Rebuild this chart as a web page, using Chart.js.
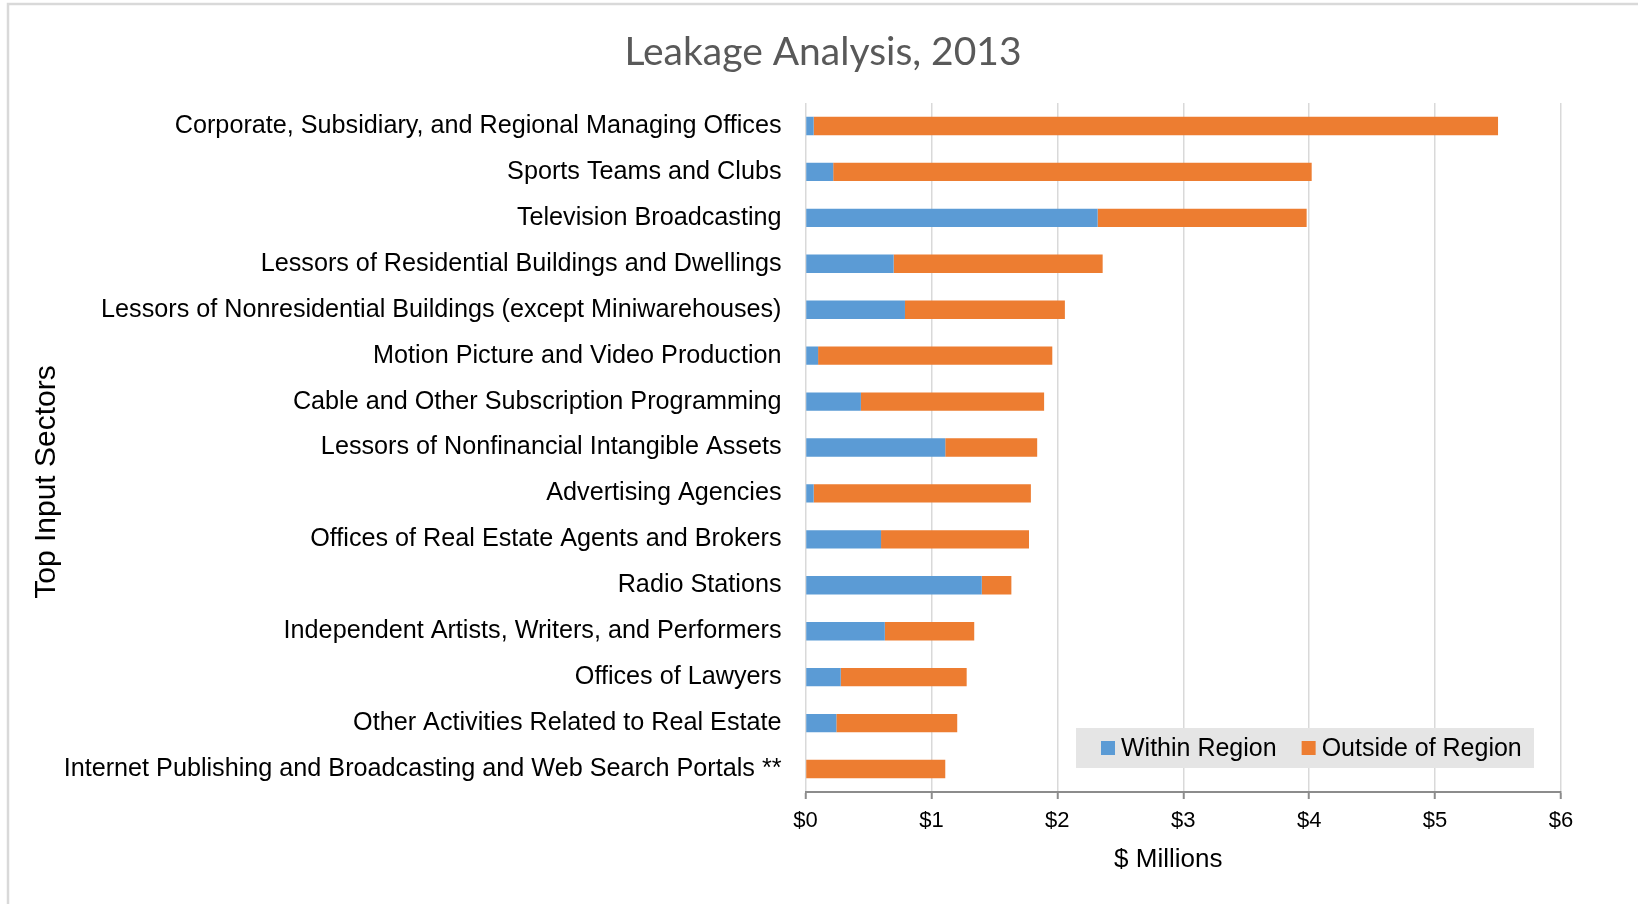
<!DOCTYPE html>
<html>
<head>
<meta charset="utf-8">
<script src="https://cdn.jsdelivr.net/npm/chart.js@4.4.1/dist/chart.umd.min.js"></script>
<style>
  html, body { margin: 0; padding: 0; background: #ffffff; }
  #wrap { width: 1638px; height: 904px; position: relative; }
</style>
</head>
<body>
<div id="wrap"><canvas id="c" width="1638" height="904"></canvas></div>
<script>
const chartTitle = "Leakage Analysis, 2013";
const xAxisTitle = "$ Millions";
const yAxisTitle = "Top Input Sectors";

const categories = [
  "Corporate, Subsidiary, and Regional Managing Offices",
  "Sports Teams and Clubs",
  "Television Broadcasting",
  "Lessors of Residential Buildings and Dwellings",
  "Lessors of Nonresidential Buildings (except Miniwarehouses)",
  "Motion Picture and Video Production",
  "Cable and Other Subscription Programming",
  "Lessors of Nonfinancial Intangible Assets",
  "Advertising Agencies",
  "Offices of Real Estate Agents and Brokers",
  "Radio Stations",
  "Independent Artists, Writers, and Performers",
  "Offices of Lawyers",
  "Other Activities Related to Real Estate",
  "Internet Publishing and Broadcasting and Web Search Portals **"
];

const withinRegion  = [0.065, 0.22, 2.32, 0.70, 0.79, 0.10, 0.44, 1.11, 0.065, 0.60, 1.40, 0.63, 0.28, 0.245, 0.0];
const outsideRegion = [5.435, 3.80, 1.66, 1.66, 1.27, 1.86, 1.455, 0.73, 1.725, 1.175, 0.235, 0.71, 1.00, 0.96, 1.11];

const xTickValues = [0, 1, 2, 3, 4, 5, 6];
const xTickPrefix = "$";

const seriesNames = ["Within Region", "Outside of Region"];
const seriesColors = ["#5b9bd5", "#ed7d31"];

const FONT = "'Liberation Sans', Arial, sans-serif";

const framePlugin = {
  id: 'frame',
  beforeDraw(chart) {
    const ctx = chart.ctx;
    ctx.save();
    ctx.fillStyle = '#ffffff';
    ctx.fillRect(0, 0, chart.width, chart.height);
    ctx.strokeStyle = '#d9d9d9';
    ctx.lineWidth = 2.5;
    ctx.beginPath();
    ctx.moveTo(8, chart.height);
    ctx.lineTo(8, 4);
    ctx.lineTo(chart.width, 4);
    ctx.stroke();
    ctx.restore();
  }
};

// shift the title box so that it is centred where the reference centres it
const titleShiftPlugin = {
  id: 'titleShift',
  afterLayout(chart) {
    const t = chart.titleBlock;
    if (t) {
      t.left += 85;
      t.width = t.right - t.left;
    }
  }
};

const yTitlePlugin = {
  id: 'yTitle',
  afterDraw(chart) {
    const ctx = chart.ctx;
    ctx.save();
    ctx.translate(47, 482);
    ctx.rotate(-Math.PI / 2);
    ctx.font = "30px " + FONT;
    ctx.fillStyle = '#000000';
    ctx.textAlign = 'center';
    ctx.textBaseline = 'middle';
    ctx.fillText(yAxisTitle, 0, 0);
    ctx.restore();
  }
};

const xTitlePlugin = {
  id: 'xTitle',
  afterDraw(chart) {
    const ctx = chart.ctx;
    const area = chart.chartArea;
    ctx.save();
    ctx.font = "26px " + FONT;
    ctx.fillStyle = '#000000';
    ctx.textAlign = 'center';
    ctx.textBaseline = 'middle';
    ctx.fillText(xAxisTitle, (area.left + area.right) / 2 - 15, 860);
    ctx.restore();
  }
};

const legendPlugin = {
  id: 'insideLegend',
  afterDraw(chart) {
    const ctx = chart.ctx;
    const area = chart.chartArea;
    const boxW = 458, boxH = 40;
    const bx = area.right - 27 - boxW;
    const by = area.bottom - 24 - boxH;
    ctx.save();
    ctx.fillStyle = '#e5e5e5';
    ctx.fillRect(bx, by, boxW, boxH);
    ctx.font = "25px " + FONT;
    ctx.textBaseline = 'middle';
    ctx.textAlign = 'left';
    let x = bx + 25;
    const cy = by + boxH / 2;
    chart.data.datasets.forEach(ds => {
      ctx.fillStyle = ds.backgroundColor;
      ctx.fillRect(x, cy - 7, 14, 14);
      x += 20;
      ctx.fillStyle = '#000000';
      ctx.fillText(ds.label, x, cy + 1);
      x += ctx.measureText(ds.label).width + 25;
    });
    ctx.restore();
  }
};

new Chart(document.getElementById('c'), {
  type: 'bar',
  data: {
    labels: categories,
    datasets: [
      { label: seriesNames[0], data: withinRegion, backgroundColor: seriesColors[0], borderWidth: 0 },
      { label: seriesNames[1], data: outsideRegion, backgroundColor: seriesColors[1], borderWidth: 0 }
    ]
  },
  options: {
    indexAxis: 'y',
    responsive: false,
    devicePixelRatio: 1,
    animation: false,
    layout: { padding: { left: 0, right: 77, top: 0, bottom: 0 } },
    datasets: { bar: { categoryPercentage: 1.0, barPercentage: 0.4 } },
    plugins: {
      legend: { display: false },
      tooltip: { enabled: false },
      title: {
        display: true,
        text: chartTitle,
        color: '#595959',
        font: { family: "Lato, 'Liberation Sans', sans-serif", size: 39, weight: 'normal', lineHeight: 1.2 },
        padding: { top: 28.6, bottom: 27.6 }
      }
    },
    scales: {
      x: {
        type: 'linear',
        stacked: true,
        min: 0,
        max: 6,
        afterBuildTicks(scale) { scale.ticks = xTickValues.map(v => ({ value: v })); },
        afterFit(scale) { scale.height = 112; },
        ticks: {
          stepSize: 1,
          color: '#000000',
          font: { family: FONT, size: 22 },
          padding: 9,
          callback: v => xTickPrefix + v
        },
        grid: {
          color: '#d9d9d9',
          lineWidth: 1.5,
          drawTicks: true,
          tickLength: 7,
          tickColor: '#8c8c8c',
          tickWidth: 2
        },
        border: { display: true, color: '#8c8c8c', width: 2 },
        title: { display: false, text: xAxisTitle }
      },
      y: {
        type: 'category',
        stacked: true,
        afterFit(scale) { scale.width = 805.5; },
        ticks: {
          color: '#000000',
          font: { family: FONT, size: 25.2 },
          padding: 24,
          autoSkip: false
        },
        grid: { display: false, drawTicks: false },
        border: { display: false },
        title: { display: false, text: yAxisTitle }
      }
    }
  },
  plugins: [framePlugin, titleShiftPlugin, yTitlePlugin, xTitlePlugin, legendPlugin]
});
</script>
</body>
</html>
